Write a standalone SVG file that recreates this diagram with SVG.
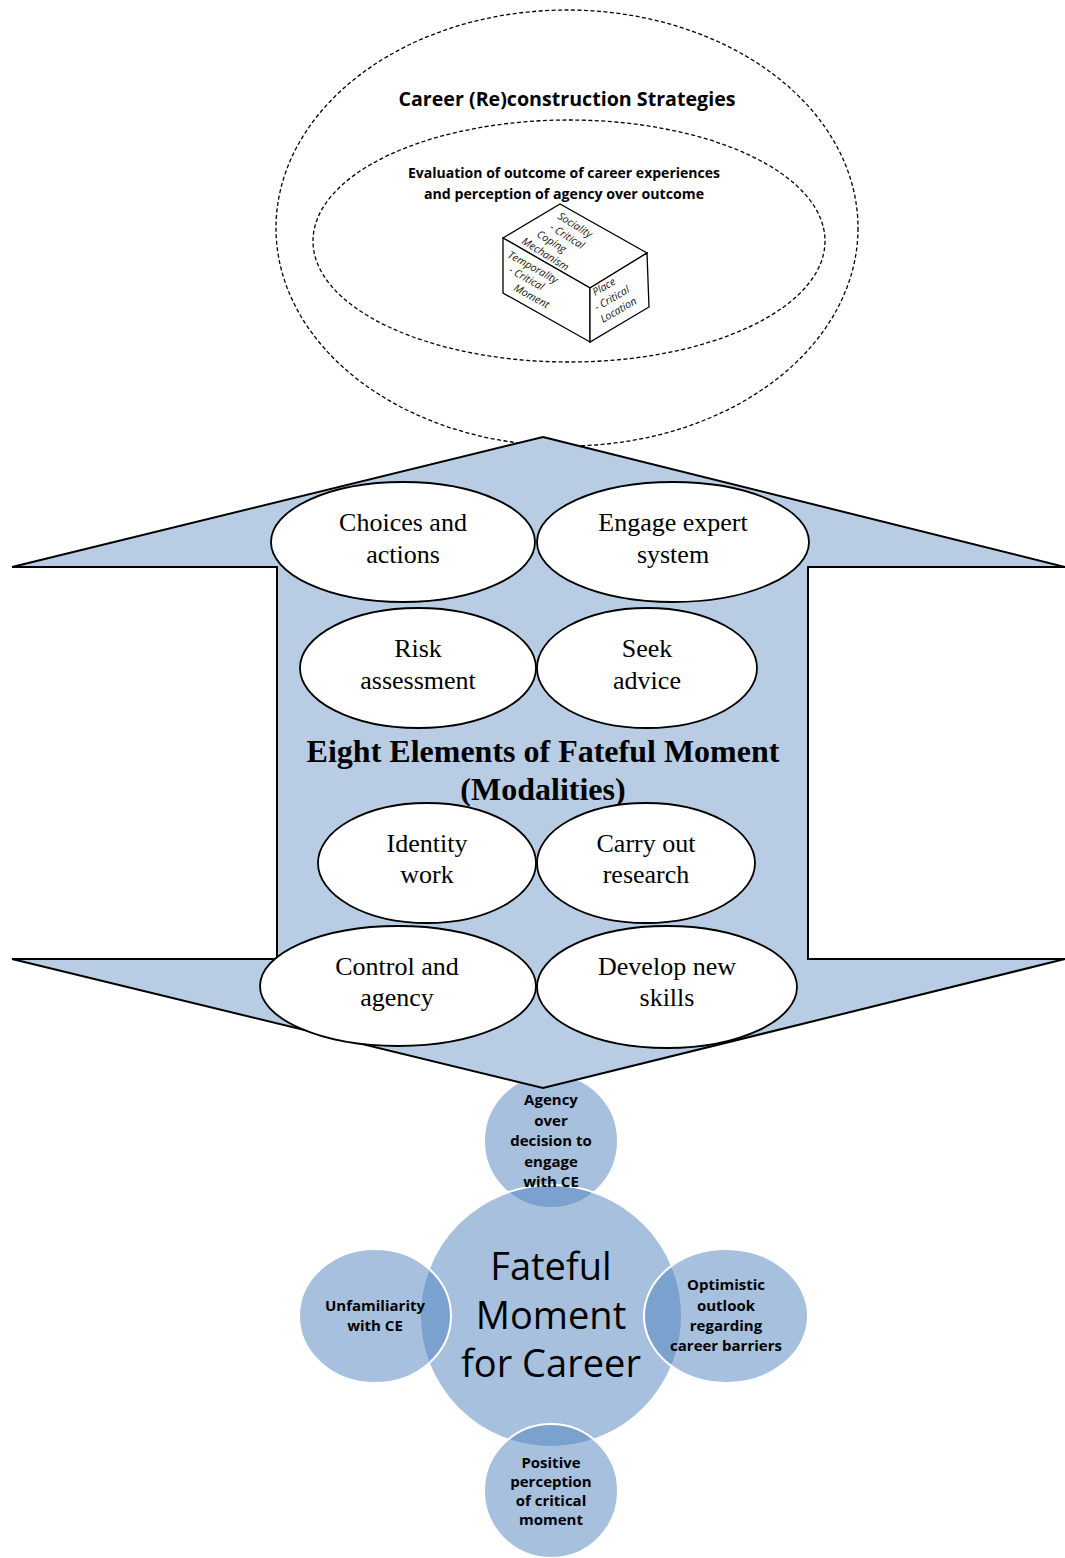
<svg xmlns="http://www.w3.org/2000/svg" width="1065" height="1558" viewBox="0 0 1065 1558">
<style>
.dash{fill:none;stroke:#000;stroke-width:1.3;stroke-dasharray:4 2.5}
.calb{font-family:"Open Sans","Liberation Sans",sans-serif;font-weight:bold;fill:#000;text-anchor:middle}
.tnr{font-family:"Liberation Serif","Times New Roman",serif;font-size:26px;fill:#000;text-anchor:middle}
.el{fill:#fff;stroke:#000;stroke-width:1.8}
.circ{fill:#4F81BD;fill-opacity:0.5;stroke:#fff;stroke-width:2}
.cube{font-family:"Open Sans","Liberation Sans",sans-serif;font-size:10.5px;fill:#111;font-style:italic}
.sm{font-family:"Open Sans","Liberation Sans",sans-serif;font-weight:bold;font-size:15px;fill:#000;text-anchor:middle}
.big{font-family:"Open Sans","Liberation Sans",sans-serif;font-size:38px;fill:#000;text-anchor:middle}
</style>
<rect width="1065" height="1558" fill="#fff"/>
<g id="strategies">
<ellipse class="dash" cx="567" cy="228" rx="291" ry="218"/>
<text class="calb" x="567" y="106" font-size="19" textLength="337" lengthAdjust="spacingAndGlyphs">Career (Re)construction Strategies</text>
</g>
<g id="evaluation">
<ellipse class="dash" cx="569" cy="241" rx="256" ry="121"/>
<text class="calb" x="564" y="178" font-size="13.5" textLength="312" lengthAdjust="spacingAndGlyphs">Evaluation of outcome of career experiences</text>
<text class="calb" x="564" y="199" font-size="13.5" textLength="280" lengthAdjust="spacingAndGlyphs">and perception of agency over outcome</text>
</g>
<g id="cube">
<polygon points="503,238 560,204 647,253 590,288" fill="#fff" stroke="#000" stroke-width="1.3"/>
<polygon points="503,238 590,288 590,342 503,293" fill="#fff" stroke="#000" stroke-width="1.3"/>
<polygon points="590,288 647,253 649,307 590,342" fill="#fff" stroke="#000" stroke-width="1.3"/>
<g class="cube">
<text transform="translate(557,218) rotate(32)">Sociality</text>
<text transform="translate(549,229) rotate(32)">- Critical</text>
<text transform="translate(536,236) rotate(32)">Coping</text>
<text transform="translate(521,243) rotate(32)">Mechanism</text>
<text transform="translate(507,257) rotate(29)">Temporality</text>
<text transform="translate(508,272) rotate(29)">- Critical</text>
<text transform="translate(513,290) rotate(29)">Moment</text>
<text transform="translate(595,296) rotate(-30)">Place</text>
<text transform="translate(597,311) rotate(-30)">- Critical</text>
<text transform="translate(603,323) rotate(-30)">Location</text>
</g>
</g>
<g id="circles">
<circle class="circ" cx="551" cy="1141" r="67"/>
<circle class="circ" cx="551" cy="1316" r="131"/>
<ellipse class="circ" cx="375" cy="1316" rx="76" ry="67"/>
<ellipse class="circ" cx="726" cy="1316" rx="82" ry="67"/>
<circle class="circ" cx="551" cy="1491" r="67"/>
</g>
<g id="connectors">
<polygon points="543,437 1065,567 808,567 808,959 1065,959 543,1088 12,959 277,959 277,567 12,567" fill="#B8CCE4" stroke="#000" stroke-width="2" stroke-linejoin="miter"/>
</g>
<g id="e1"><ellipse class="el" cx="403" cy="542" rx="132" ry="60"/><text class="tnr" x="403" y="531">Choices and</text><text class="tnr" x="403" y="563">actions</text></g>
<g id="e2"><ellipse class="el" cx="673" cy="542" rx="136" ry="60"/><text class="tnr" x="673" y="531">Engage expert</text><text class="tnr" x="673" y="563">system</text></g>
<g id="e3"><ellipse class="el" cx="418" cy="668" rx="118" ry="60"/><text class="tnr" x="418" y="657">Risk</text><text class="tnr" x="418" y="689">assessment</text></g>
<g id="e4"><ellipse class="el" cx="647" cy="668" rx="110" ry="60"/><text class="tnr" x="647" y="657">Seek</text><text class="tnr" x="647" y="689">advice</text></g>
<g id="title"><text x="543" y="762" font-family="Liberation Serif, Times New Roman, serif" font-weight="bold" font-size="32" text-anchor="middle">Eight Elements of Fateful Moment</text><text x="543" y="800" font-family="Liberation Serif, Times New Roman, serif" font-weight="bold" font-size="32" text-anchor="middle">(Modalities)</text></g>
<g id="e5"><ellipse class="el" cx="427" cy="863" rx="109" ry="60"/><text class="tnr" x="427" y="852">Identity</text><text class="tnr" x="427" y="883">work</text></g>
<g id="e6"><ellipse class="el" cx="646" cy="863" rx="109" ry="60"/><text class="tnr" x="646" y="852">Carry out</text><text class="tnr" x="646" y="883">research</text></g>
<g id="e7"><ellipse class="el" cx="398" cy="986" rx="138" ry="60"/><text class="tnr" x="397" y="975">Control and</text><text class="tnr" x="397" y="1006">agency</text></g>
<g id="e8"><ellipse class="el" cx="667" cy="987" rx="130" ry="61"/><text class="tnr" x="667" y="975">Develop new</text><text class="tnr" x="667" y="1006">skills</text></g>
<g id="c-top"><text class="sm" x="551" y="1105">Agency</text><text class="sm" x="551" y="1126">over</text><text class="sm" x="551" y="1146">decision to</text><text class="sm" x="551" y="1167">engage</text><text class="sm" x="551" y="1187">with CE</text></g>
<g id="c-center"><text class="big" x="551" y="1280">Fateful</text><text class="big" x="551" y="1329">Moment</text><text class="big" x="551" y="1377">for Career</text></g>
<g id="c-left"><text class="sm" x="375" y="1311">Unfamiliarity</text><text class="sm" x="375" y="1331">with CE</text></g>
<g id="c-right"><text class="sm" x="726" y="1290">Optimistic</text><text class="sm" x="726" y="1311">outlook</text><text class="sm" x="726" y="1331">regarding</text><text class="sm" x="726" y="1351">career barriers</text></g>
<g id="c-bottom"><text class="sm" x="551" y="1468">Positive</text><text class="sm" x="551" y="1487">perception</text><text class="sm" x="551" y="1506">of critical</text><text class="sm" x="551" y="1525">moment</text></g>
</svg>
